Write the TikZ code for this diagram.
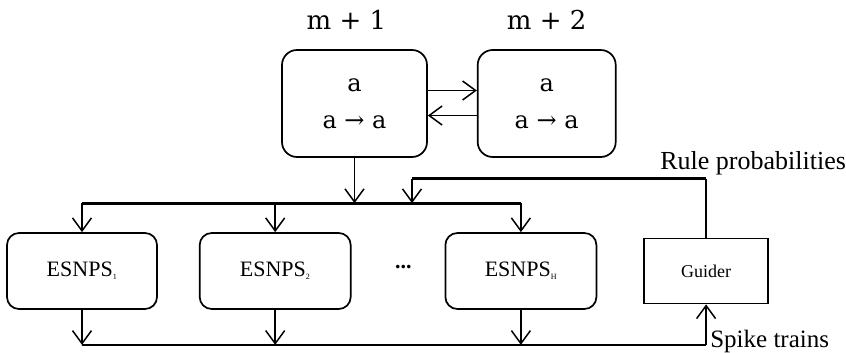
\documentclass[tikz,border=0pt]{standalone}
\usepackage{fontspec}
\setmainfont{Liberation Serif}
\newfontfamily\cellfont{DejaVu Serif}
\usetikzlibrary{arrows.meta, positioning, calc}
\tikzset{
  cell/.style={rectangle, draw, line width=1.7pt, rounded corners=15pt,
               minimum width=145pt, minimum height=107pt, align=center,
               font=\cellfont\fontsize{24}{37}\selectfont},
  esnps/.style={rectangle, draw, line width=1.7pt, rounded corners=12pt,
                minimum width=151pt, minimum height=76pt, align=center,
                font=\fontsize{22}{26}\selectfont},
  guidebox/.style={rectangle, draw, line width=1.7pt, minimum width=124pt,
                   minimum height=65pt, font=\fontsize{18}{22}\selectfont},
  celllabel/.style={inner sep=0pt, font=\cellfont\fontsize{26}{30}\selectfont},
  lbl/.style={inner sep=0pt, font=\fontsize{26}{30}\selectfont},
  arrow/.style={-{Straight Barb[length=13pt, width=19pt]}, line width=1.5pt},
  bus/.style={line width=2.8pt},
  wire/.style={line width=1.5pt}
}

\begin{document}
\begin{tikzpicture}[x=1pt, y=1pt, node distance=40pt]
    \useasboundingbox (0,0) rectangle (846,-353);

    \node[cell] (m1) at (354.5,-103.5) {a\\a → a};
    \node[cell, right=49pt of m1, minimum width=138pt] (m2) {a\\a → a};
    \node[celllabel, above=19pt of m1, xshift=-8pt] (m1lbl) {m + 1};
    \node[celllabel, above=19pt of m2] (m2lbl) {m + 2};

    \node[esnps, minimum width=150pt] (e1) at (82,-271) {ESNPS\textsubscript{\fontsize{8}{8}\selectfont 1}};
    \node[esnps, right=41pt of e1] (e2) {ESNPS\textsubscript{\fontsize{8}{8}\selectfont 2}};
    \node[esnps, right=93pt of e2] (eH) {ESNPS\textsubscript{\fontsize{8}{8}\selectfont H}};
    \node[font=\fontsize{22}{26}\selectfont\bfseries, right=40pt of e2, yshift=4pt] (dots) {...};
    \node[guidebox, right=46pt of eH] (guider) {Guider};

    \draw[arrow] ([yshift=13pt]m1.east) -- ([yshift=13pt]m2.west);
    \draw[arrow] ([yshift=-12pt]m2.west) -- ([yshift=-12pt]m1.east);

    \coordinate[above=29pt of e1.north] (busL);
    \coordinate[above=29pt of eH.north] (busR);
    \draw[bus] (busL) -- (busR);
    \draw[arrow] (m1.south) -- (m1.south |- busL);
    \draw[arrow] (busL) -- (e1.north);
    \draw[arrow] (e2.north |- busL) -- (e2.north);
    \draw[arrow] (busR) -- (eH.north);

    \coordinate (fb) at ($(m1.south)+(57.5,-21)$);
    \coordinate (fbr) at (fb -| guider.north);
    \draw[wire] (guider.north) -- (fbr);
    \draw[bus] (fbr) -- (fb);
    \draw[arrow] (fb) -- (fb |- busL);
    \node[lbl] (rp) at ($(fbr)+(47,16)$) {Rule probabilities};

    \coordinate[below=35pt of e1.south] (outL);
    \draw[arrow] (e1.south) -- (outL);
    \draw[arrow] (e2.south) -- (e2.south |- outL);
    \draw[arrow] (eH.south) -- (eH.south |- outL);
    \draw[wire] (outL) -- (outL -| guider.south);
    \draw[arrow] (outL -| guider.south) -- (guider.south);
    \node[lbl, anchor=base west, font=\fontsize{25}{30}\selectfont] (st) at ($(outL -| guider.south)+(4,-3)$) {Spike trains};
\end{tikzpicture}
\end{document}
